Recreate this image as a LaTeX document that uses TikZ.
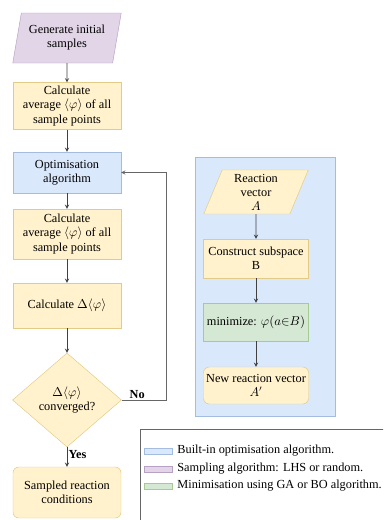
\documentclass[tikz,border=0pt]{standalone}
\usepackage{fontspec}
\setmainfont{Liberation Serif}
\tikzset{>=stealth}
\usetikzlibrary{shapes.geometric,positioning}
\colorlet{lineColor}{black!75}
\colorlet{loopColor}{black!60}
\definecolor{yellowFill}{HTML}{FFF2CC}
\definecolor{yellowDraw}{HTML}{E2CB86}
\definecolor{blueFill}{HTML}{DAE8FC}
\definecolor{blueDraw}{HTML}{A3BCDF}
\definecolor{purpleFill}{HTML}{E1D5E7}
\definecolor{purpleDraw}{HTML}{B9A0C5}
\definecolor{greenFill}{HTML}{D5E8D4}
\definecolor{greenDraw}{HTML}{A6CB92}
\tikzset{
  txt/.style={font=\fontsize{10.5}{12}\selectfont, align=center, inner sep=1pt},
  calcbox/.style={txt, draw=yellowDraw, fill=yellowFill, minimum width=3.24cm},
  optbox/.style={txt, draw=blueDraw, fill=blueFill, minimum width=3.24cm},
  minbox/.style={txt, draw=greenDraw, fill=greenFill, minimum width=3.15cm},
  endbox/.style={calcbox, rounded corners=5pt},
  inbox/.style={txt, trapezium, trapezium stretches=true, trapezium left angle=75, trapezium right angle=105},
  lbl/.style={txt, black, font=\fontsize{10.5}{12}\selectfont\bfseries},
  flow/.style={->, lineColor, semithick},
}

\begin{document}
\begin{tikzpicture}[x=0.03cm,y=-0.03cm]
\clip (0,0) rectangle (383,520);
\useasboundingbox (0,0) rectangle (383,520);
% left column
\node[inbox, draw=purpleDraw, fill=purpleFill, minimum width=3.27cm, minimum height=1.5cm] (gen) at (67,38) {Generate initial\\samples};
\node[calcbox, minimum height=1.4cm] (avg1) at (67,106) {Calculate\\average $\langle\varphi\rangle$ of all\\sample points};
\node[optbox, minimum height=1.23cm] (opt) at (67,172.5) {Optimisation\\algorithm};
\node[calcbox, minimum height=1.5cm] (avg2) at (67,234) {Calculate\\average $\langle\varphi\rangle$ of all\\sample points};
\node[calcbox, minimum height=1.35cm] (delta) at (67,305.5) {Calculate $\Delta\langle\varphi\rangle$};
\node[txt, diamond, draw=yellowDraw, fill=yellowFill, minimum width=3.27cm, minimum height=2.82cm, inner sep=0pt] (conv) at (67,400) {$\Delta\langle\varphi\rangle$\\converged?};
\node[endbox, minimum height=1.53cm] (done) at (67,492.5) {Sampled reaction\\conditions};
\coordinate (turn) at (166,400);
\draw[flow] (gen) -- (avg1);
\draw[flow] (avg1) -- (opt);
\draw[flow] (opt) -- (avg2);
\draw[flow] (avg2) -- (delta);
\draw[flow] (delta) -- (conv);
\draw[flow] (conv) -- node[right, lbl, pos=0.35] {Yes} (done);
\draw[->, loopColor, semithick] (conv.east) -- node[above, lbl, pos=0.35] {No} (turn) |- (opt.east);
% right panel
\draw[blueDraw, fill=blueFill] (195,157) rectangle (335,416);
\node[inbox, draw=yellowDraw, fill=yellowFill, trapezium left angle=72, trapezium right angle=108, minimum width=3.15cm, minimum height=1.32cm] (vec) at (256,192) {Reaction\\vector\\$A$};
\node[calcbox, minimum width=3.15cm, minimum height=1.17cm] (sub) at (256,258.5) {Construct subspace\\B};
\node[minbox, minimum height=1.14cm] (minz) at (256,322) {minimize: $\varphi(a{\in}B)$};
\node[endbox, minimum width=3.15cm, minimum height=1.11cm] (newv) at (256,385.5) {New reaction vector\\$A'$};
\draw[flow] (vec) -- (sub);
\draw[flow] (sub) -- (minz);
\draw[flow] (minz) -- (newv);
% legend
\draw[loopColor] (140,429) rectangle (400,530);
\draw[blueDraw, fill=blueFill] (144,448) rectangle (172,454);
\draw[purpleDraw, fill=purpleFill] (144,466) rectangle (172,472);
\draw[greenDraw, fill=greenFill] (144,483) rectangle (172,489);
\node[txt, anchor=west] (leg1) at (176,451) {Built-in optimisation algorithm.};
\node[txt, anchor=west] (leg2) at (176,469) {Sampling algorithm: LHS or random.};
\node[txt, anchor=west] (leg3) at (176,486) {Minimisation using GA or BO algorithm.};
\end{tikzpicture}
\end{document}
